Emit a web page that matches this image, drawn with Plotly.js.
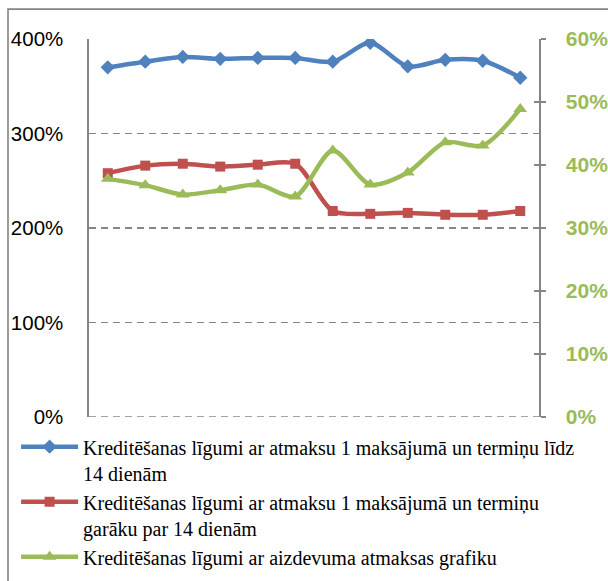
<!DOCTYPE html>
<html>
<head>
<meta charset="utf-8">
<script src="https://cdn.plot.ly/plotly-3.0.1.min.js"></script>
<style>html,body{margin:0;padding:0;background:#fff;}#chart{width:608px;height:581px;}</style>
</head>
<body>
<div id="chart"></div>
<script>
const categories = ['1','2','3','4','5','6','7','8','9','10','11','12'];
const seriesNames = [
  'Kreditēšanas līgumi ar atmaksu 1 maksājumā un termiņu līdz<br>14 dienām',
  'Kreditēšanas līgumi ar atmaksu 1 maksājumā un termiņu<br>garāku par 14 dienām',
  'Kreditēšanas līgumi ar aizdevuma atmaksas grafiku'
];
const shortTerm = [370, 376, 381, 379, 380, 380, 376, 396, 371, 378, 377, 359];
const longTerm = [258, 266, 268, 265, 267, 268, 218, 215, 216, 214, 214, 218];
const scheduleRight = [37.8, 36.8, 35.3, 36.0, 36.9, 35.0, 42.3, 36.9, 38.8, 43.6, 43.1, 48.9];
const leftTicks = [0, 100, 200, 300, 400];
const leftTickText = ['0%', '100%', '200%', '300%', '400%'];
const rightTicks = [0, 10, 20, 30, 40, 50, 60];
const rightTickText = ['0%', '10%', '20%', '30%', '40%', '50%', '60%'];

const blue = '#4F81BD', red = '#C0504D', green = '#9BBB59', grey = '#858585';

const traces = [
  {x: categories, y: shortTerm, name: seriesNames[0], type: 'scatter', mode: 'lines+markers',
   line: {color: blue, width: 4.5, shape: 'spline', smoothing: 0.8},
   marker: {symbol: 'diamond', size: 11, color: blue}},
  {x: categories, y: longTerm, name: seriesNames[1], type: 'scatter', mode: 'lines+markers',
   line: {color: red, width: 4.5, shape: 'spline', smoothing: 0.8},
   marker: {symbol: 'square', size: 10, color: red}},
  {x: categories, y: scheduleRight, name: seriesNames[2], type: 'scatter', mode: 'lines+markers', yaxis: 'y2',
   line: {color: green, width: 4.5, shape: 'spline', smoothing: 0.8},
   marker: {symbol: 'triangle-up', size: 12, color: green}}
];

// dummy trace to activate yaxis3 (cross tick marks on the right axis)
traces.push({x: categories, y: scheduleRight, yaxis: 'y3', type: 'scatter', mode: 'none',
             showlegend: false, hoverinfo: 'skip'});

const layout = {
  width: 608, height: 581,
  margin: {l: 89, r: 69, t: 39, b: 164, autoexpand: false},
  paper_bgcolor: '#fff', plot_bgcolor: '#fff',
  showlegend: true,
  font: {family: 'Liberation Sans, Arial, sans-serif', color: '#000'},
  xaxis: {type: 'category', range: [-0.5, 11.5], showticklabels: false, showgrid: false,
          zeroline: false, showline: false, ticks: ''},
  yaxis: {range: [0, 400], tickvals: leftTicks, ticktext: leftTickText,
          showgrid: true, gridcolor: grey, griddash: '7px,5px', gridwidth: 1.6,
          zeroline: false, showline: true, linecolor: grey, linewidth: 1.6,
          ticks: '', ticklabelstandoff: 20,
          tickfont: {family: 'Liberation Sans, Arial, sans-serif', size: 20.5, color: '#000'}},
  yaxis2: {range: [0, 60], overlaying: 'y', side: 'right', tickvals: rightTicks, ticktext: rightTickText,
           showgrid: false, zeroline: false, showline: true, linecolor: grey, linewidth: 1.6,
           ticks: 'outside', ticklen: 5, tickcolor: grey, tickwidth: 1.6, ticklabelstandoff: 16,
           tickfont: {family: 'Liberation Sans, Arial, sans-serif', size: 21, color: green, weight: 'bold'}},
  yaxis3: {range: [0, 60], overlaying: 'y', side: 'right', tickvals: rightTicks,
           showticklabels: false, showgrid: false, zeroline: false, showline: false,
           ticks: 'inside', ticklen: 5, tickcolor: grey, tickwidth: 1.6},
  legend: {x: -0.162, xanchor: 'left', y: -0.027, yanchor: 'top', orientation: 'v',
           bgcolor: 'rgba(0,0,0,0)', borderwidth: 0, valign: 'top', tracegroupgap: 0,
           itemwidth: 57,
           font: {family: 'Liberation Serif, Times New Roman, serif', size: 20, color: '#000'}},
  shapes: [
    {type: 'rect', xref: 'paper', yref: 'paper', x0: -0.18, x1: 1.3, y0: -0.6, y1: 1.079,
     line: {color: grey, width: 1.6}, fillcolor: 'rgba(0,0,0,0)', layer: 'below'},
    {type: 'line', xref: 'paper', yref: 'y', x0: 0, x1: 1, y0: 0, y1: 0,
     line: {color: grey, width: 1.6, dash: '7px,5px'}, layer: 'below'}
  ]
};

Plotly.newPlot('chart', traces, layout, {displayModeBar: false, staticPlot: true});
</script>
</body>
</html>
